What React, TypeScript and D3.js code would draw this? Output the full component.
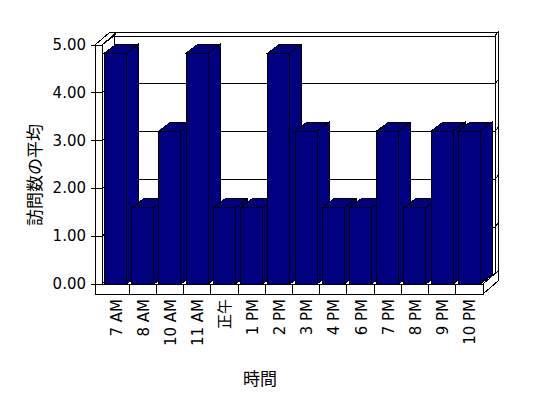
import React from "react";
import * as d3 from "d3";

const categories = ["7 AM", "8 AM", "10 AM", "11 AM", "正午", "1 PM", "2 PM", "3 PM", "4 PM", "6 PM", "7 PM", "8 PM", "9 PM", "10 PM"];
const visits = [4.83, 1.6, 3.2, 4.83, 1.6, 1.6, 4.83, 3.2, 1.6, 1.6, 3.2, 1.6, 3.2, 3.2];
const yTicks = [0, 1, 2, 3, 4, 5];
const yTitle = "訪問数の平均";
const xTitle = "時間";

const W = 548;
const H = 398;
const FONT = "'DejaVu Sans', 'Noto Sans CJK JP', sans-serif";
const JP = "'Noto Sans CJK JP', sans-serif";
const NAVY = "#000080";

// depth offsets: inner = bar depth / back wall face, outer = back of the walls
const DI = { x: 12, y: -9 };
const DO = { x: 15, y: -13 };
const WALL = 7;
const FLOOR = 10;

const pts = (p: number[][]) => p.map((d) => d.join(",")).join(" ");

const App = () => {
  const x = d3.scaleBand().domain(categories).range([102, 483]);
  const y = d3.scaleLinear().domain([0, 5]).range([284, 45]);

  const xl = x.range()[0];
  const xr = x.range()[1];
  const y0 = y(0);
  const y5 = y(5);
  const barW = 22;
  const barOff = 2.5;

  const line = { stroke: "#000", strokeWidth: 1, fill: "#fff" };

  return (
    <svg width={W} height={H} style={{ position: "absolute", left: 0, top: 0, background: "#fff" }}>
      <g shapeRendering="crispEdges">
        {/* back wall */}
        <polygon points={pts([[xl + DI.x, y5 + DI.y], [xr + DI.x, y5 + DI.y], [xr + DI.x, y0 + DI.y], [xl + DI.x, y0 + DI.y]])} {...line} />
        <polygon points={pts([[xl + DI.x, y5 + DI.y], [xr + DI.x, y5 + DI.y], [xr + DO.x, y5 + DO.y], [xl + DO.x, y5 + DO.y]])} {...line} />
        <polygon points={pts([[xr + DI.x, y5 + DI.y], [xr + DO.x, y5 + DO.y], [xr + DO.x, y0 + DO.y], [xr + DI.x, y0 + DI.y]])} {...line} />
        {/* left wall */}
        <polygon points={pts([[xl, y5], [xl + DI.x, y5 + DI.y], [xl + DI.x, y0 + DI.y], [xl, y0]])} {...line} />
        <polygon points={pts([[xl - WALL, y5], [xl, y5], [xl + DO.x, y5 + DO.y], [xl - WALL + DO.x, y5 + DO.y]])} {...line} />
        <rect x={xl - WALL} y={y5} width={WALL} height={y0 - y5 + FLOOR} {...line} />
        {/* floor */}
        <polygon points={pts([[xl, y0], [xr, y0], [xr + DI.x, y0 + DI.y], [xl + DI.x, y0 + DI.y]])} {...line} />
        <rect x={xl - WALL} y={y0} width={xr - xl + WALL} height={FLOOR} {...line} />
        <polygon points={pts([[xr, y0], [xr + DO.x, y0 + DO.y], [xr + DO.x, y0 + FLOOR + DO.y], [xr, y0 + FLOOR]])} {...line} />
        {categories.slice(1).map((c) => (
          <line key={c} x1={x(c)} x2={x(c)} y1={y0} y2={y0 + FLOOR} stroke="#000" />
        ))}

        {/* gridlines */}
        {yTicks.slice(1, 5).map((t) => (
          <polyline
            key={t}
            stroke="#000"
            fill="none"
            points={pts([[xl, y(t)], [xl + DI.x, y(t) + DI.y], [xr + DI.x, y(t) + DI.y], [xr + DO.x, y(t) + DO.y]])}
          />
        ))}

        {/* bars */}
        {categories.map((c, i) => {
          const bx = (x(c) as number) + barOff;
          const bx2 = bx + barW;
          const by = y(visits[i]);
          return (
            <g key={c} fill={NAVY} stroke="#000" strokeWidth={1}>
              <polygon points={pts([[bx2, by], [bx2 + DI.x, by + DI.y], [bx2 + DI.x, y0 + DI.y], [bx2, y0]])} />
              <polygon points={pts([[bx, by], [bx + DI.x, by + DI.y], [bx2 + DI.x, by + DI.y], [bx2, by]])} />
              <rect x={bx} y={by} width={barW} height={y0 - by} />
            </g>
          );
        })}

        {/* value axis ticks */}
        {yTicks.map((t) => (
          <line key={t} x1={xl - WALL - 4} x2={xl} y1={y(t)} y2={y(t)} stroke="#000" />
        ))}
      </g>

      {yTicks.map((t) => (
        <text key={t} x={86} y={y(t)} textAnchor="end" dominantBaseline="central" fontFamily={FONT} fontSize={15} fill="#000">
          {t.toFixed(2)}
        </text>
      ))}

      {/* category labels */}
      {categories.map((c) => (
        <text
          key={c}
          transform={`translate(${(x(c) as number) + x.bandwidth() / 2 + 1},${y0 + FLOOR + 5}) rotate(-90)`}
          textAnchor="end"
          dominantBaseline="central"
          fontFamily={FONT}
          fontSize={15}
          fill="#000"
        >
          {c}
        </text>
      ))}

      <text transform={`translate(33,175) rotate(-90)`} textAnchor="middle" dominantBaseline="central" fontFamily={JP} fontSize={17} fill="#000">
        {yTitle}
      </text>
      <text x={260} y={377} textAnchor="middle" dominantBaseline="central" fontFamily={JP} fontSize={17} fill="#000">
        {xTitle}
      </text>
    </svg>
  );
};

export default App;
